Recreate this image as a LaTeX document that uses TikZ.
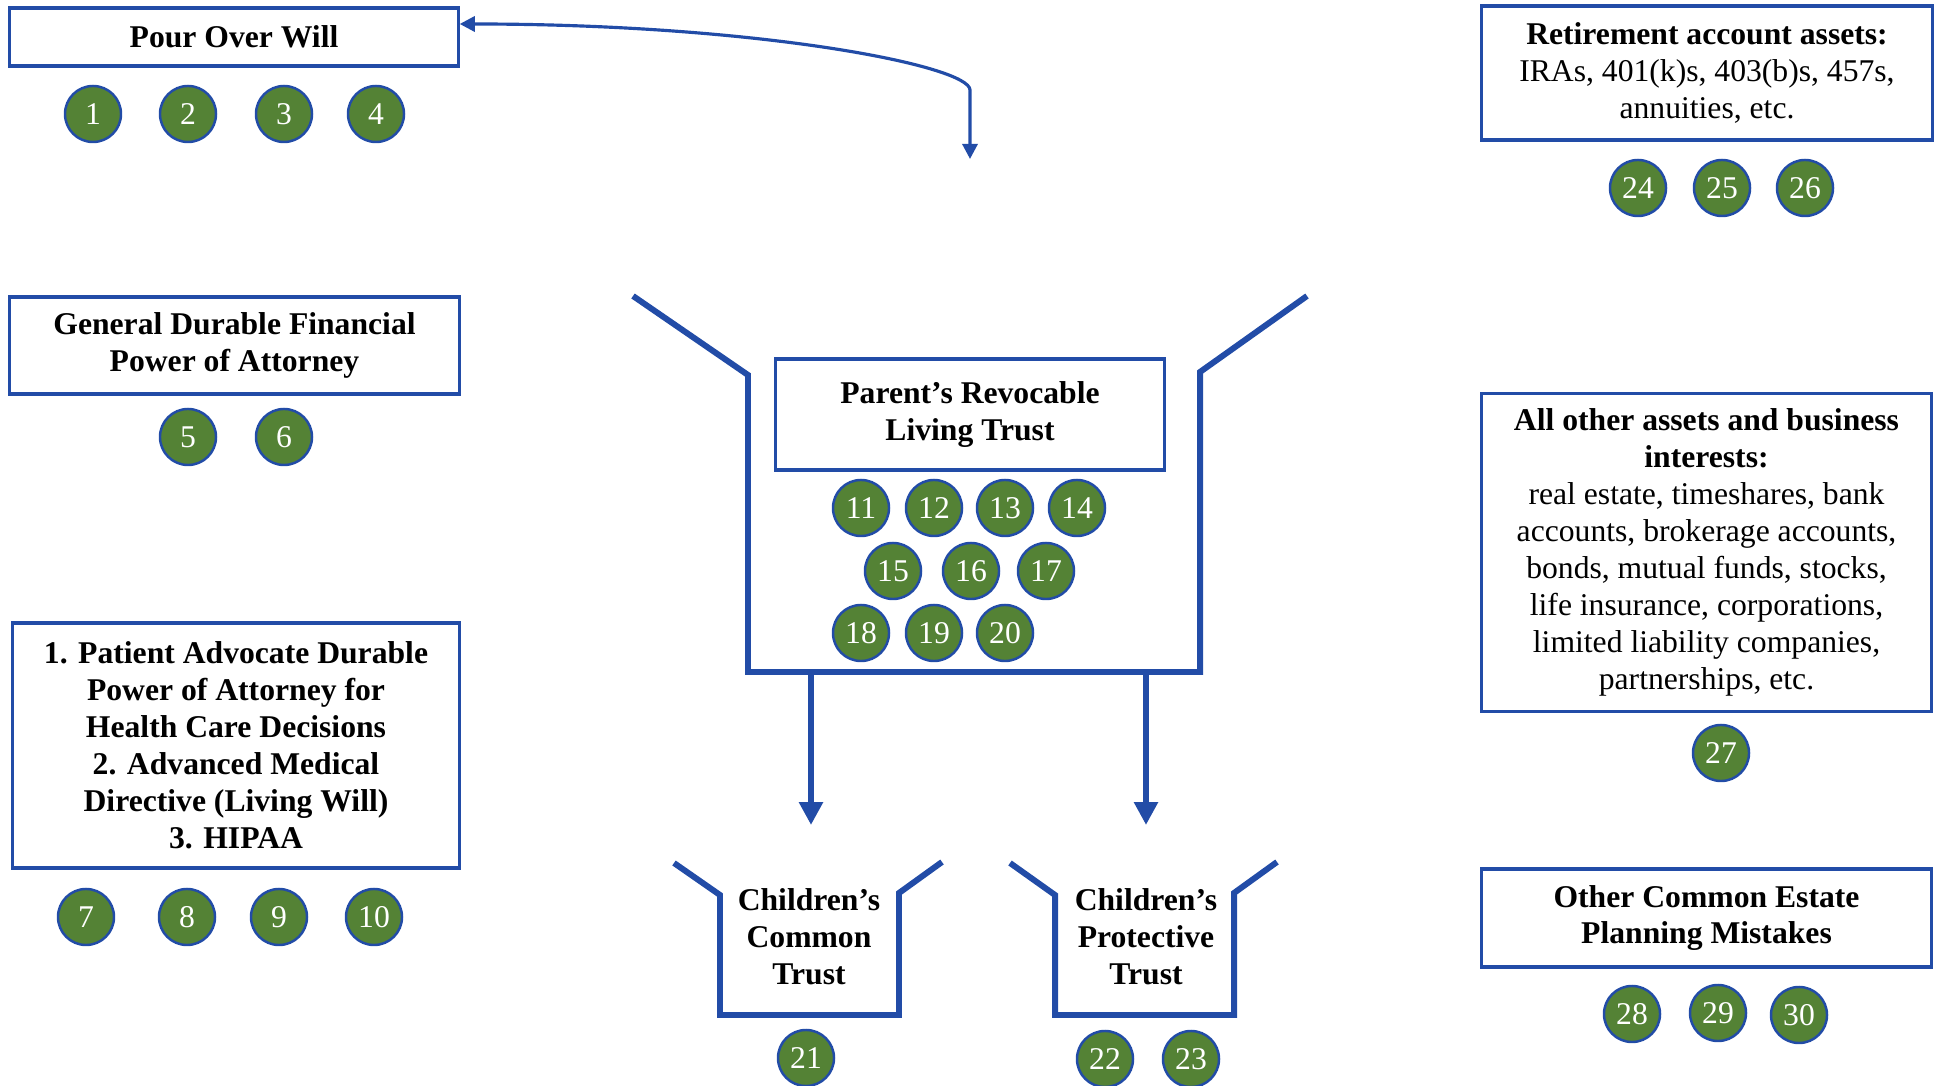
\documentclass[tikz,border=0pt]{standalone}
\usepackage{fontspec}
\setmainfont{Liberation Serif}
\usetikzlibrary{arrows.meta}
\definecolor{trustblue}{RGB}{34,76,167}
\definecolor{leafgreen}{RGB}{84,130,53}

\begin{document}
\begin{tikzpicture}[x=0.01cm, y=-0.01cm,
  box/.style={draw=trustblue, line width=0.9pt, align=center, inner sep=0pt, font=\fontsize{9}{10.5}\selectfont},
  num/.style={circle, draw=trustblue, fill=leafgreen, line width=0.7pt, minimum size=0.56cm, inner sep=0pt, text=white, font=\fontsize{9}{10.5}\selectfont},
  rim/.style={draw=trustblue, line width=1.7pt},
  link/.style={draw=trustblue, line width=1.7pt, -{Triangle[width=6.5pt,length=6.5pt]}}]
\useasboundingbox (0,0) rectangle (1939,1086);

\node [box, minimum width=4.48cm, minimum height=0.58cm] (will) at (234,37) {\bfseries Pour Over Will};
\node [box, minimum width=4.49cm, minimum height=0.97cm] (finpoa) at (234.5,345.5) {\bfseries General Durable Financial\\\bfseries Power of Attorney};
\node [box, minimum width=4.46cm, minimum height=2.45cm] (health) at (236,745.5) {\bfseries 1. Patient Advocate Durable\\\bfseries Power of Attorney for\\\bfseries Health Care Decisions\\\bfseries 2. Advanced Medical\\\bfseries Directive (Living Will)\\\bfseries 3. HIPAA};

\node [box, minimum width=3.88cm, minimum height=1.11cm] (living) at (970,414.5) {\bfseries Parent’s Revocable\\\bfseries Living Trust};
\draw [rim] (633,296) -- (748,375) -- (748,672) -- (1200,672) -- (1200,372) -- (1307,296);
\draw [rim] (674,863) -- (720,895) -- (720,1015) -- (899,1015) -- (899,893) -- (942,862);
\draw [rim] (1010,863) -- (1055,895) -- (1055,1015) -- (1234,1015) -- (1234,893) -- (1277,862);
\node [box, draw=none] (common) at (809,937) {\bfseries Children’s\\\bfseries Common\\\bfseries Trust};
\node [box, draw=none] (protect) at (1146,937) {\bfseries Children’s\\\bfseries Protective\\\bfseries Trust};

\node [box, minimum width=4.50cm, minimum height=1.34cm] (retire) at (1707,73) {\bfseries Retirement account assets:\\IRAs, 401(k)s, 403(b)s, 457s,\\annuities, etc.};
\node [box, minimum width=4.49cm, minimum height=3.17cm] (assets) at (1706.5,552.5) {\bfseries All other assets and business\\\bfseries interests:\\real estate, timeshares, bank\\accounts, brokerage accounts,\\bonds, mutual funds, stocks,\\life insurance, corporations,\\limited liability companies,\\partnerships, etc.};
\node [box, minimum width=4.49cm, minimum height=0.98cm] (mistakes) at (1706.5,918) {\bfseries Other Common Estate\\\bfseries Planning Mistakes};

\foreach \n/\x/\y in {1/93/114, 2/188/114, 3/284/114, 4/376/114, 5/188/437, 6/284/437,
  7/86/917, 8/187/917, 9/279/917, 10/374/917,
  11/861/508, 12/934/508, 13/1005/508, 14/1077/508, 15/893/571, 16/971/571, 17/1046/571,
  18/861/633, 19/934/633, 20/1005/633, 21/806/1058, 22/1105/1059, 23/1191/1059,
  24/1638/188, 25/1722/188, 26/1805/188, 27/1721/753, 28/1632/1014, 29/1718/1013, 30/1799/1015}
  \node [num] (c\n) at (\x,\y) {\n};

\coordinate (leftout) at (811,672);
\coordinate (leftin) at (811,825);
\coordinate (rightout) at (1146,672);
\coordinate (rightin) at (1146,825);
\draw [link] (leftout) -- (leftin);
\draw [link] (rightout) -- (rightin);

\coordinate (willin) at (will.east |- 0,24);
\coordinate (drop) at (970,159);
\draw [trustblue, line width=0.9pt, {Triangle[width=4.3pt,length=4.3pt]}-{Triangle[width=4.3pt,length=4.3pt]}]
  (drop) -- (970,90) .. controls (970,66) and (760,24) .. (willin);
\end{tikzpicture}
\end{document}
